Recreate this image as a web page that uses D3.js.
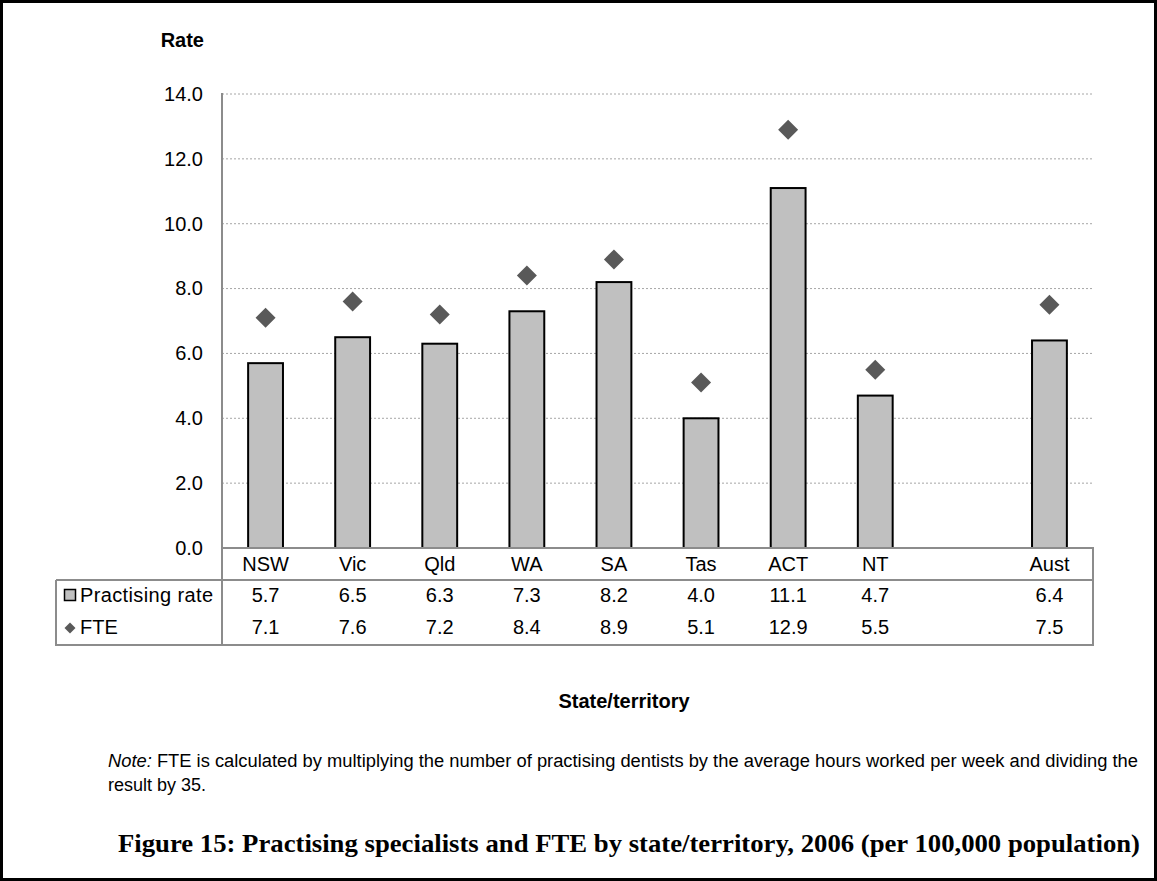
<!DOCTYPE html>
<html><head><meta charset="utf-8">
<script src="https://cdn.jsdelivr.net/npm/d3@7"></script>
<style>body{margin:0;background:#fff}svg{display:block}</style>
</head><body>
<svg id="c" width="1157" height="881"></svg>
<script>
const categories = ["NSW","Vic","Qld","WA","SA","Tas","ACT","NT","","Aust"];
const practisingRate = [5.7,6.5,6.3,7.3,8.2,4.0,11.1,4.7,null,6.4];
const fte = [7.1,7.6,7.2,8.4,8.9,5.1,12.9,5.5,null,7.5];
const yTicks = [0,2,4,6,8,10,12,14];
const seriesNames = ["Practising rate","FTE"];

(function(){
const svg = d3.select("#c");
const font = "Liberation Sans, Arial, sans-serif";
const pLeft = 222, pRight = 1093, pTop = 94, pBase = 548;
const x = d3.scaleBand().domain(categories).range([pLeft, pRight]).paddingInner(0.6).paddingOuter(0.3);
const y = d3.scaleLinear().domain([0, 14]).range([pBase, pTop]);

// frame
svg.append("rect").attr("x",1.5).attr("y",1.5).attr("width",1154).attr("height",878)
  .attr("fill","none").attr("stroke","#000").attr("stroke-width",3);

// gridlines
svg.append("g").selectAll("line").data(yTicks.filter(d=>d>0)).join("line")
  .attr("x1",pLeft).attr("x2",pRight).attr("y1",d=>y(d)).attr("y2",d=>y(d))
  .attr("stroke","#a6a6a6").attr("stroke-width",1).attr("stroke-dasharray","2,2");

// y axis
const yAxis = svg.append("g").attr("transform",`translate(${pLeft},0)`)
  .call(d3.axisLeft(y).tickValues(yTicks).tickFormat(d3.format(".1f")).tickSize(0).tickPadding(19));
yAxis.select(".domain").remove();
yAxis.selectAll("text").attr("font-family",font).attr("font-size",20).attr("fill","#000");

svg.append("text").attr("x",204).attr("y",47).attr("text-anchor","end")
  .attr("font-family",font).attr("font-size",20).attr("font-weight","bold").text("Rate");

// bars
const idx = d3.range(categories.length);
svg.append("g").selectAll("rect").data(idx.filter(i=>practisingRate[i]!=null)).join("rect")
  .attr("x",i=>x(categories[i])).attr("width",x.bandwidth())
  .attr("y",i=>y(practisingRate[i])).attr("height",i=>y(0)-y(practisingRate[i]))
  .attr("fill","#c0c0c0").attr("stroke","#000").attr("stroke-width",2);

// diamonds
const dsym = d3.symbol().type(d3.symbolSquare).size(200);
svg.append("g").selectAll("path").data(idx.filter(i=>fte[i]!=null)).join("path")
  .attr("d",dsym)
  .attr("transform",i=>`translate(${x(categories[i])+x.bandwidth()/2},${y(fte[i])}) rotate(45)`)
  .attr("fill","#595959");

// table lines
const lc = "#8c8c8c", lw = 2;
const tl = [
  [pLeft, pTop-1, pLeft, 646],
  [pLeft, pBase, pRight, pBase],
  [56, 580, pRight, 580],
  [56, 645, pRight, 645],
  [56, 580, 56, 646],
  [pRight, pBase-1, pRight, 646]
];
svg.append("g").selectAll("line").data(tl).join("line")
  .attr("x1",d=>d[0]).attr("y1",d=>d[1]).attr("x2",d=>d[2]).attr("y2",d=>d[3])
  .attr("stroke",lc).attr("stroke-width",lw);

// category labels
const cx = c => x(c) + x.bandwidth()/2;
svg.append("g").selectAll("text").data(categories).join("text")
  .attr("x",d=>cx(d)).attr("y",571).attr("text-anchor","middle")
  .attr("font-family",font).attr("font-size",20).text(d=>d);

// values
[practisingRate, fte].forEach((arr, r) => {
  svg.append("g").selectAll("text").data(idx.filter(i=>arr[i]!=null)).join("text")
    .attr("x",i=>cx(categories[i])).attr("y",r===0?602:634).attr("text-anchor","middle")
    .attr("font-family",font).attr("font-size",20).text(i=>arr[i].toFixed(1));
});

// legend in table
svg.append("rect").attr("x",64.5).attr("y",589.5).attr("width",11).attr("height",11)
  .attr("fill","#c0c0c0").attr("stroke","#000").attr("stroke-width",1.5);
svg.append("path").attr("d",d3.symbol().type(d3.symbolSquare).size(60))
  .attr("transform","translate(70,628) rotate(45)").attr("fill","#595959");
svg.append("text").attr("x",80).attr("y",602).attr("font-family",font).attr("font-size",20).attr("textLength",133).text(seriesNames[0]);
svg.append("text").attr("x",80).attr("y",634).attr("font-family",font).attr("font-size",20).text(seriesNames[1]);

// x title
svg.append("text").attr("x",624).attr("y",708).attr("text-anchor","middle")
  .attr("font-family",font).attr("font-size",20).attr("font-weight","bold").text("State/territory");

// note
const note = svg.append("text").attr("x",108).attr("y",767).attr("font-family",font).attr("font-size",18)
  .attr("textLength",1030).attr("lengthAdjust","spacingAndGlyphs");
note.append("tspan").attr("font-style","italic").text("Note:");
note.append("tspan").text(" FTE is calculated by multiplying the number of practising dentists by the average hours worked per week and dividing the");
svg.append("text").attr("x",108).attr("y",791).attr("font-family",font).attr("font-size",18).text("result by 35.");

// caption
svg.append("text").attr("x",118).attr("y",852)
  .attr("font-family","Liberation Serif, 'Times New Roman', serif").attr("font-size",24.5).attr("font-weight","bold")
  .attr("textLength",1022).attr("lengthAdjust","spacingAndGlyphs")
  .text("Figure 15: Practising specialists and FTE by state/territory, 2006 (per 100,000 population)");
})();
</script>
</body></html>
